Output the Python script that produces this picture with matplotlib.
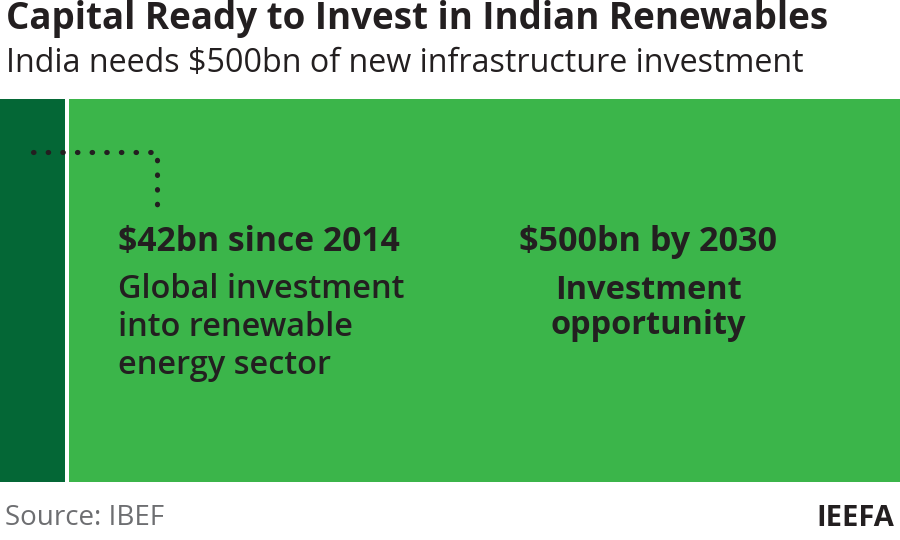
import matplotlib.pyplot as plt

# data
amounts = ["$42bn since 2014", "$500bn by 2030"]
captions = ["Global investment\ninto renewable\nenergy sector", "Investment\nopportunity"]
values_bn = [42, 500]
colors = ["#046736", "#3bb54a"]

title = "Capital Ready to Invest in Indian Renewables"
subtitle = "India needs $500bn of new infrastructure investment"
source = "Source: IBEF"
brand = "IEEFA"

plt.rcParams['font.family'] = ['Open Sans', 'DejaVu Sans']

fig = plt.figure(figsize=(9, 5.4), dpi=100)
# axes in pixel-like units over the green block
ax = fig.add_axes([0, 1 - 482 / 540, 1, 383 / 540])
ax.set_xlim(0, 900)
ax.set_ylim(0, 383)
ax.axis('off')

# stylised segments (not to scale, as in the original)
seg_left = [0, 69]
seg_width = [65, 831]
ax.barh(0, seg_width[0], left=seg_left[0], height=383, align='edge', color=colors[0])
ax.barh(0, seg_width[1], left=seg_left[1], height=383, align='edge', color=colors[1])

# dotted leader line
ax.plot([33, 157, 157], [330, 330, 269], ls=(0, (0.1, 2.75)), lw=3.7,
        color='#231f20', solid_capstyle='round', dash_capstyle='round')

ink = '#231f20'
ax.text(118, 240, amounts[0], fontsize=24.2, fontweight='bold', color=ink,
        ha='left', va='center')
ax.text(118, 154, captions[0], fontsize=23.4, color=ink, ha='left',
        va='center', linespacing=1.2, fontweight='semibold')
ax.text(648, 240, amounts[1], fontsize=24.6, fontweight='bold', color=ink,
        ha='center', va='center')
ax.text(648, 174, captions[1], fontsize=23.4, fontweight='bold', color=ink,
        ha='center', va='center', linespacing=1.1)

fig.text(6 / 900, 1 - 19 / 540, title, fontsize=26.5, fontweight='bold',
         color=ink, ha='left', va='center')
fig.text(6 / 900, 1 - 64 / 540, subtitle, fontsize=23.2, color=ink,
         ha='left', va='center')
fig.text(5 / 900, 1 - 518 / 540, source, fontsize=20, color='#6d6e71',
         ha='left', va='center')
fig.text(894 / 900, 1 - 518 / 540, brand, fontsize=21, fontweight='bold',
         color=ink, ha='right', va='center')

fig.savefig('out.png', dpi=100)
